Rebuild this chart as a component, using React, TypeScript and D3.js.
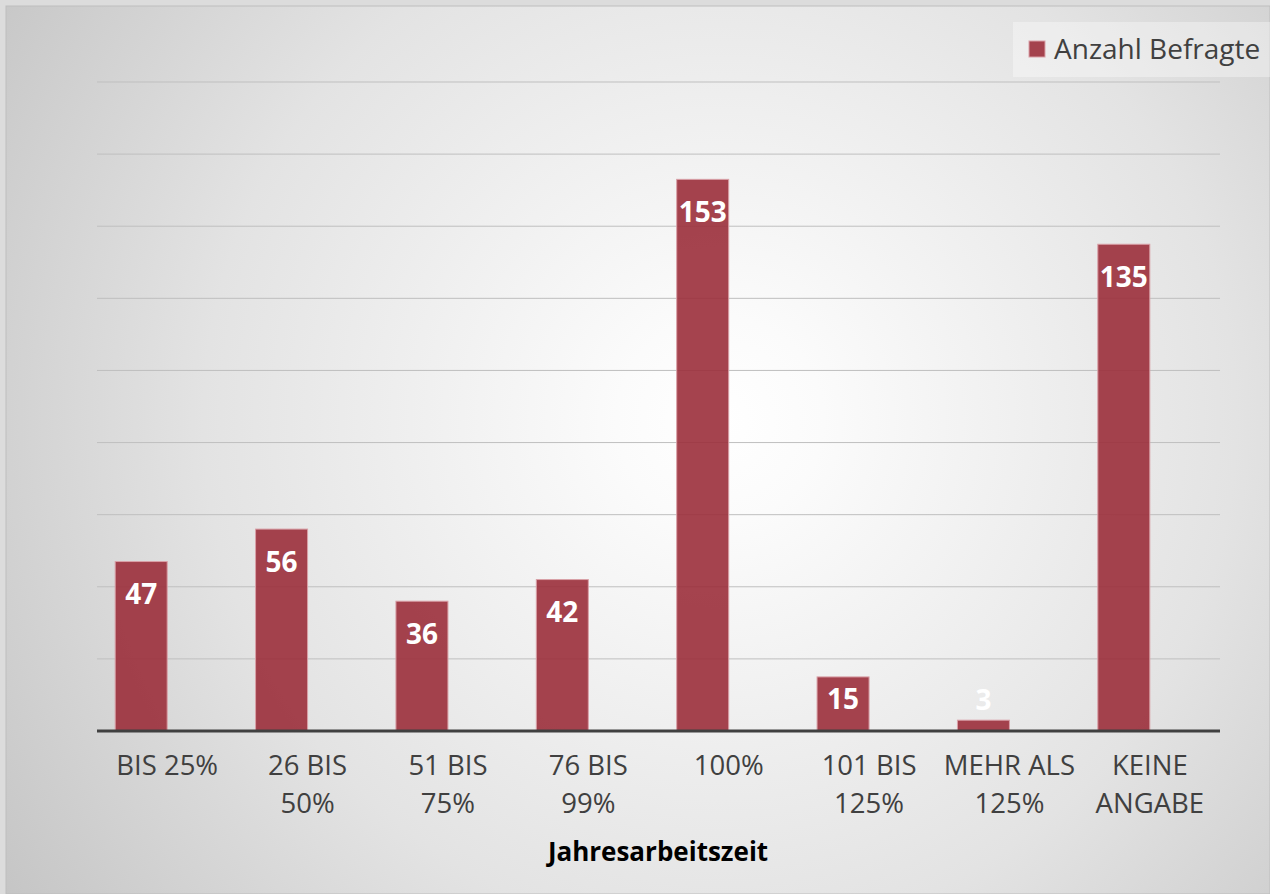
import React from "react";
import * as d3 from "d3";

const categories = ["BIS 25%", "26 BIS 50%", "51 BIS 75%", "76 BIS 99%", "100%", "101 BIS 125%", "MEHR ALS 125%", "KEINE ANGABE"];
const tickLabelLines = [["BIS 25%"], ["26 BIS", "50%"], ["51 BIS", "75%"], ["76 BIS", "99%"], ["100%"], ["101 BIS", "125%"], ["MEHR ALS", "125%"], ["KEINE", "ANGABE"]];
const values = [47, 56, 36, 42, 153, 15, 3, 135];
const gridTicks = [0, 20, 40, 60, 80, 100, 120, 140, 160, 180];
const seriesName = "Anzahl Befragte";
const axisTitle = "Jahresarbeitszeit";

const W = 1270;
const H = 894;
const plot = { left: 97, right: 1220, top: 82, bottom: 731 };
const font = "'Open Sans', 'Noto Sans', sans-serif";

export default function App() {
  const x = d3.scaleBand<string>().domain(categories).range([plot.left, plot.right]).padding(0);
  const y = d3.scaleLinear().domain([0, 180]).range([plot.bottom, plot.top]);
  const barW = 52;

  return (
    <svg width={W} height={H} style={{ position: "fixed", left: 0, top: 0, display: "block" }}>
      <defs>
        <radialGradient id="bg" gradientUnits="userSpaceOnUse" cx={720} cy={420} r={860}>
          <stop offset="0" stopColor="#ffffff" />
          <stop offset="0.12" stopColor="#fbfbfb" />
          <stop offset="0.6" stopColor="#e3e3e3" />
          <stop offset="1" stopColor="#c5c5c5" />
        </radialGradient>
      </defs>
      <rect x={0} y={0} width={W} height={H} fill="#dcdcdc" />
      <rect x={6} y={6} width={W - 6} height={H - 6} fill="url(#bg)" stroke="#bdbdbd" strokeWidth={1} />
      {gridTicks.filter((t) => t > 0).map((t) => (
        <line key={t} x1={plot.left} x2={plot.right} y1={y(t)} y2={y(t)} stroke="#bfbfbf" strokeWidth={1} />
      ))}
      {categories.map((c, i) => {
        const cx = (x(c) as number) + x.bandwidth() / 2;
        const top = y(values[i]);
        return (
          <rect key={c} x={cx - barW} y={top} width={barW} height={plot.bottom - top}
            fill="#9b2f3b" fillOpacity={0.9} stroke="#d9a0a7" strokeWidth={1} />
        );
      })}
      <line x1={plot.left} x2={plot.right} y1={plot.bottom} y2={plot.bottom} stroke="#404040" strokeWidth={3} />
      {categories.map((c, i) => {
        const cx = (x(c) as number) + x.bandwidth() / 2 - barW / 2;
        const top = y(values[i]);
        const h = plot.bottom - top;
        let ly = top + 33;
        if (h < 30) ly = top - 20;
        else if (h < 70) ly = top + 22;
        return (
          <text key={c} x={cx} y={ly} dy="0.35em" textAnchor="middle" fill="#ffffff"
            fontFamily={font} fontWeight={700} fontSize={28}>{values[i]}</text>
        );
      })}
      {categories.map((c, i) => {
        const cx = (x(c) as number) + x.bandwidth() / 2;
        return (
          <text key={c} x={cx} y={765} textAnchor="middle" fill="#404040" fontFamily={font} fontSize={27.5}>
            {tickLabelLines[i].map((l, j) => (
              <tspan key={j} x={cx} y={765 + j * 38} dy="0.35em">{l}</tspan>
            ))}
          </text>
        );
      })}
      <text x={658} y={852} dy="0.35em" textAnchor="middle" fill="#000000" fontFamily={font} fontWeight={700} fontSize={26}>{axisTitle}</text>
      <rect x={1013} y={22} width={257} height={55} fill="#ffffff" fillOpacity={0.35} />
      <rect x={1029} y={41} width={16} height={16} fill="#9b2f3b" fillOpacity={0.9} stroke="#d9a0a7" strokeWidth={1} />
      <text x={1054} y={49} dy="0.35em" fill="#404040" fontFamily={font} fontSize={28}>{seriesName}</text>
    </svg>
  );
}
